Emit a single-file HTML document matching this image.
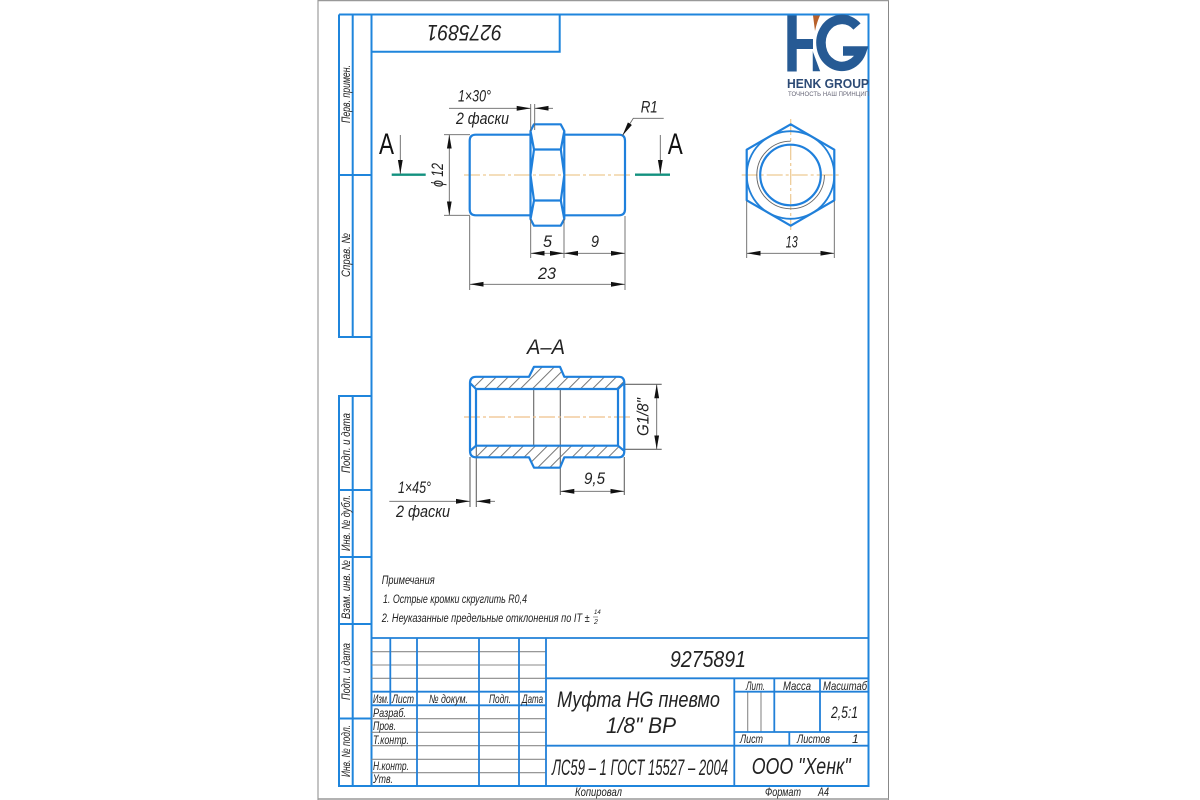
<!DOCTYPE html>
<html><head><meta charset="utf-8"><style>
html,body{margin:0;padding:0;background:#fff}
svg{display:block}
text{font-family:"Liberation Sans","DejaVu Sans",sans-serif;font-style:italic;fill:#222}
.n{font-style:normal;fill:#111}
.b{stroke:#2180d8;stroke-width:1.8;fill:none}
.v{stroke:#1f80dc;stroke-width:2.2;fill:none;stroke-linejoin:round}
.f{stroke:#1f85dc;stroke-width:2;fill:none}
.g{stroke:#8a8a8a;stroke-width:1.100;fill:none}
.d{stroke:#666;stroke-width:.9;fill:none}
.c{stroke:#edc992;stroke-width:1.200;fill:none;stroke-dasharray:16 3 3 3}
</style></head><body>
<svg width="1200" height="800" viewBox="0 0 1200 800" xmlns="http://www.w3.org/2000/svg">
<defs>
<pattern id="h" width="8.500" height="8.500" patternUnits="userSpaceOnUse" patternTransform="translate(2 0) rotate(45)"><rect width="8.500" height="8.500" fill="#fff"/><line x1="4" y1="0" x2="4" y2="8.500" stroke="#555" stroke-width=".8"/></pattern>
<marker id="m" markerWidth="14" markerHeight="6" refX="14" refY="3" orient="auto-start-reverse" markerUnits="userSpaceOnUse"><path d="M0 .6L14 3L0 5.400z" fill="#111"/></marker>
</defs>
<rect width="1200" height="800" fill="#fff"/>
<path d="M318 0V800M888.500 0V800" stroke="#888" stroke-width="1"/>
<path d="M318 .5H889M318 799H889" stroke="#999" stroke-width="1.500"/>

<!-- frame -->
<path class="f" d="M339 14.500H868.500V786H339V396H371.500M339 14.500V337H371.500M352.700 14.500V337M371.500 14.500V786M352.700 396V786M339 175H371.500M339 490H371.500M339 557H371.500M339 624H371.500M339 718.500H371.500M371.500 51.700H559.700V14.500"/>

<!-- title block -->
<path class="g" d="M371.500 651.700H546M371.500 665H546M371.500 678.300H546M371.500 718.700H546M371.500 732.300H546M371.500 745.700H546M371.500 759.300H546M371.500 772.700H546M747.700 692V732M761 692V732"/>
<path class="b" d="M371.500 638H868.500M371.500 691.700H546M371.500 705.300H546M390.300 638V705.300M417 638V786M479 638V786M519 638V786M546 638V786M546 678.300H868.500M546 745.700H868.500M734.300 678.300V786M734.300 691.700H868.500M734.300 732H868.500M774.300 678.300V732M820 678.300V732M789.300 732V745.700"/>

<!-- rotated labels -->
<g font-size="12">
<text transform="translate(350 123) rotate(-90)" textLength="58" lengthAdjust="spacingAndGlyphs">Перв. примен.</text>
<text transform="translate(350 277) rotate(-90)" textLength="44" lengthAdjust="spacingAndGlyphs">Справ. №</text>
<text transform="translate(350 473) rotate(-90)" textLength="60" lengthAdjust="spacingAndGlyphs">Подп. и дата</text>
<text transform="translate(350 551) rotate(-90)" textLength="56" lengthAdjust="spacingAndGlyphs">Инв. № дубл.</text>
<text transform="translate(350 619) rotate(-90)" textLength="59" lengthAdjust="spacingAndGlyphs">Взам. инв. №</text>
<text transform="translate(350 700) rotate(-90)" textLength="57" lengthAdjust="spacingAndGlyphs">Подп. и дата</text>
<text transform="translate(350 777) rotate(-90)" textLength="52" lengthAdjust="spacingAndGlyphs">Инв. № подл.</text>
</g>
<text transform="translate(502 25) rotate(180)" font-size="22" textLength="75" lengthAdjust="spacingAndGlyphs">9275891</text>

<!-- title block text -->
<g font-size="12">
<text x="373" y="703" textLength="16" lengthAdjust="spacingAndGlyphs">Изм.</text>
<text x="392" y="703" textLength="22" lengthAdjust="spacingAndGlyphs">Лист</text>
<text x="429" y="703" textLength="39" lengthAdjust="spacingAndGlyphs">№ докум.</text>
<text x="489" y="703" textLength="22" lengthAdjust="spacingAndGlyphs">Подп.</text>
<text x="522" y="703" textLength="21" lengthAdjust="spacingAndGlyphs">Дата</text>
<text x="373" y="717" textLength="33" lengthAdjust="spacingAndGlyphs">Разраб.</text>
<text x="373" y="730" textLength="23" lengthAdjust="spacingAndGlyphs">Пров.</text>
<text x="373" y="744" textLength="36" lengthAdjust="spacingAndGlyphs">Т.контр.</text>
<text x="373" y="770" textLength="36" lengthAdjust="spacingAndGlyphs">Н.контр.</text>
<text x="373" y="783" textLength="20" lengthAdjust="spacingAndGlyphs">Утв.</text>
<text x="746" y="690" textLength="19" lengthAdjust="spacingAndGlyphs">Лит.</text>
<text x="783" y="690" textLength="28" lengthAdjust="spacingAndGlyphs">Масса</text>
<text x="823" y="690" textLength="44" lengthAdjust="spacingAndGlyphs">Масштаб</text>
<text x="740" y="743" textLength="23" lengthAdjust="spacingAndGlyphs">Лист</text>
<text x="797" y="743" textLength="33" lengthAdjust="spacingAndGlyphs">Листов</text>
<text x="852" y="743">1</text>
<text x="575" y="796" textLength="47" lengthAdjust="spacingAndGlyphs">Копировал</text>
<text x="765" y="796" textLength="36" lengthAdjust="spacingAndGlyphs">Формат</text>
<text x="818" y="796" textLength="11" lengthAdjust="spacingAndGlyphs">А4</text>
</g>
<text x="670" y="667" font-size="23" textLength="76" lengthAdjust="spacingAndGlyphs">9275891</text>
<text x="557" y="707" font-size="22" textLength="163" lengthAdjust="spacingAndGlyphs">Муфта HG пневмо</text>
<text x="606" y="733" font-size="22" textLength="70" lengthAdjust="spacingAndGlyphs">1/8" ВР</text>
<text x="552" y="775" font-size="22" textLength="176" lengthAdjust="spacingAndGlyphs">ЛС59 – 1 ГОСТ 15527 – 2004</text>
<text x="751.700" y="774" font-size="23" textLength="99" lengthAdjust="spacingAndGlyphs">ООО "Хенк"</text>
<text x="831" y="718" font-size="17" textLength="27" lengthAdjust="spacingAndGlyphs">2,5:1</text>

<!-- logo -->
<g>
<path d="M787.300 15.500H796.700V39H813V49H796.700V71.500H787.300z" fill="#265a94"/>
<path d="M857 26.500A21 23.500 0 1 0 861.700 51H843" fill="none" stroke="#265a94" stroke-width="9.500"/>
<path d="M813 15.500H820C817 22 816 27 815 31z" fill="#b8602a"/>
<path d="M812.500 50L820.500 71.500H812.500z" fill="#265a94" stroke="#fff" stroke-width=".5"/>
<text class="n" x="787" y="88" font-size="12.500" font-weight="bold" style="fill:#2c4a75" textLength="82" lengthAdjust="spacingAndGlyphs">HENK GROUP</text>
<text class="n" x="788" y="96" font-size="6" style="fill:#667" textLength="81" lengthAdjust="spacing">ТОЧНОСТЬ НАШ ПРИНЦИП</text>
</g>

<!-- front view -->
<path class="c" d="M464 175H632"/>
<path class="c" d="M741.700 175H840M790.700 119V230"/>
<path class="v" d="M530.700 134.700H475.700Q469.700 134.700 469.700 140.700V209.300Q469.700 215.300 475.700 215.300H530.700M564 134.700H619Q625 134.700 625 140.700V209.300Q625 215.300 619 215.300H564"/>
<path class="v" d="M530.500 131L534 124.300H560.700L564.300 131L560.800 149.500L564.300 175L560.800 200.500L564.300 219L560.700 225.700H534L530.500 219L534 200.500L530.500 175L534 149.500zM534 149.500H560.800M534 200.500H560.800M530.500 131V219M564.300 131V219"/>
<!-- dims front -->
<path class="d" d="M530.700 104V131M534.700 104V130M444 134.700H470M444 215.300H470M469.700 216V290M625 216V290M530.700 219V258M564 219V258"/>
<path class="d" d="M449 108.300H530.700" marker-end="url(#m)"/>
<path class="d" d="M553 108.300H534.700" marker-end="url(#m)"/>
<path class="d" d="M449.300 175V134.700" marker-end="url(#m)"/>
<path class="d" d="M449.300 175V215.300" marker-end="url(#m)"/>
<path class="d" d="M547 253.300H530.700" marker-end="url(#m)"/>
<path class="d" d="M547 253.300H564" marker-end="url(#m)"/>
<path class="d" d="M594 253.300H564" marker-end="url(#m)"/>
<path class="d" d="M594 253.300H625" marker-end="url(#m)"/>
<path class="d" d="M547 284.300H469.700" marker-end="url(#m)"/>
<path class="d" d="M547 284.300H625" marker-end="url(#m)"/>
<path class="d" d="M663.700 118.300H633.300L622.500 135.500" marker-end="url(#m)"/>
<g font-size="17">
<text x="458" y="101.700" textLength="33" lengthAdjust="spacingAndGlyphs">1×30°</text>
<text x="456" y="124" textLength="53" lengthAdjust="spacingAndGlyphs">2 фаски</text>
<text x="543" y="247" textLength="9" lengthAdjust="spacingAndGlyphs">5</text>
<text x="591" y="247" textLength="8" lengthAdjust="spacingAndGlyphs">9</text>
<text x="538" y="279" textLength="18" lengthAdjust="spacingAndGlyphs">23</text>
<text x="640.700" y="112.300" textLength="17" lengthAdjust="spacingAndGlyphs">R1</text>
<text x="785.700" y="247.300" textLength="12" lengthAdjust="spacingAndGlyphs">13</text>
<text transform="translate(443 187) rotate(-90)" textLength="24" lengthAdjust="spacingAndGlyphs">ϕ 12</text>
</g>
<!-- section marks -->
<path d="M391.700 174.700H425.700M635 174.700H670" stroke="#12917f" stroke-width="2.400"/>
<path class="d" d="M400.300 135V174" marker-end="url(#m)"/>
<path class="d" d="M660.300 135V174" marker-end="url(#m)"/>
<text class="n" x="379" y="154" font-size="30" textLength="15" lengthAdjust="spacingAndGlyphs">A</text>
<text class="n" x="667.700" y="154" font-size="30" textLength="15" lengthAdjust="spacingAndGlyphs">A</text>

<!-- end view -->
<path class="v" d="M790.700 124.300L834.300 149.700V200.300L790.700 225.700L746.700 200.300V149.700z"/>
<circle class="b" cx="790.500" cy="175" r="43.800"/>
<circle class="v" cx="790.500" cy="175" r="30.300"/>
<path class="d" d="M790.700 141.200A33.800 33.800 0 1 0 824.400 175" stroke="#555"/>
<path class="d" d="M746.700 201V258M834.300 201V258"/>
<path class="d" d="M790 253.300H746.700" marker-end="url(#m)"/>
<path class="d" d="M790 253.300H834.300" marker-end="url(#m)"/>

<!-- section A-A -->
<text x="527" y="354" font-size="21" textLength="38" lengthAdjust="spacingAndGlyphs">А–А</text>
<path d="M476 376.800H529L534 366.800H560L564.300 376.800H619Q624.300 376.800 624.300 383L618 389H476L470 383Q470 376.800 476 376.800zM476 457.300H529L534 467.700H560L564.300 457.300H619Q624.300 457.300 624.300 451L618 445.700H476L470 451Q470 457.300 476 457.300z" fill="url(#h)"/>
<path class="g" style="stroke:#666" d="M533.700 389V445.700M560.300 389V495M470 457V507M476.300 446V507M624.300 457V495M624.300 384.300H661.700M624.300 449.300H661.700"/>
<path class="c" d="M464 417H630.700" style="stroke:#efc08a"/>
<path class="v" d="M476 389H618V445.700H476zM476 376.800H529L534 366.800H560L564.300 376.800H619Q624.300 376.800 624.300 383V451Q624.300 457.300 619 457.300H564.300L560 467.700H534L529 457.300H476Q470 457.300 470 451V383Q470 376.800 476 376.800zM470 383L476 389M470 451L476 445.700M624.300 383L618 389M624.300 451L618 445.700"/>
<path class="d" d="M656.700 417V384.300" marker-end="url(#m)"/>
<path class="d" d="M656.700 417V449.300" marker-end="url(#m)"/>
<path class="d" d="M592 491.300H560.300" marker-end="url(#m)"/>
<path class="d" d="M592 491.300H624.300" marker-end="url(#m)"/>
<path class="d" d="M389.300 501.300H470" marker-end="url(#m)"/>
<path class="d" d="M495 501.300H476.300" marker-end="url(#m)"/>
<g font-size="17">
<text x="584" y="484" textLength="21" lengthAdjust="spacingAndGlyphs">9,5</text>
<text x="398" y="493" textLength="33" lengthAdjust="spacingAndGlyphs">1×45°</text>
<text x="396" y="517" textLength="54" lengthAdjust="spacingAndGlyphs">2 фаски</text>
<text transform="translate(648.500 436) rotate(-90)" textLength="38" lengthAdjust="spacingAndGlyphs">G1/8"</text>
</g>

<!-- notes -->
<g font-size="11.500">
<text x="381.700" y="584" textLength="53" lengthAdjust="spacingAndGlyphs">Примечания</text>
<text x="383" y="603" textLength="144" lengthAdjust="spacingAndGlyphs">1. Острые кромки скруглить R0,4</text>
<text x="381.700" y="622" textLength="208" lengthAdjust="spacingAndGlyphs">2. Неуказанные предельные отклонения по IT ±</text>
</g>
<text x="594" y="614" font-size="6">14</text>
<text x="594" y="624" font-size="7">2</text>
<path d="M593 617H598" stroke="#555" stroke-width=".6"/>
</svg>
</body></html>
